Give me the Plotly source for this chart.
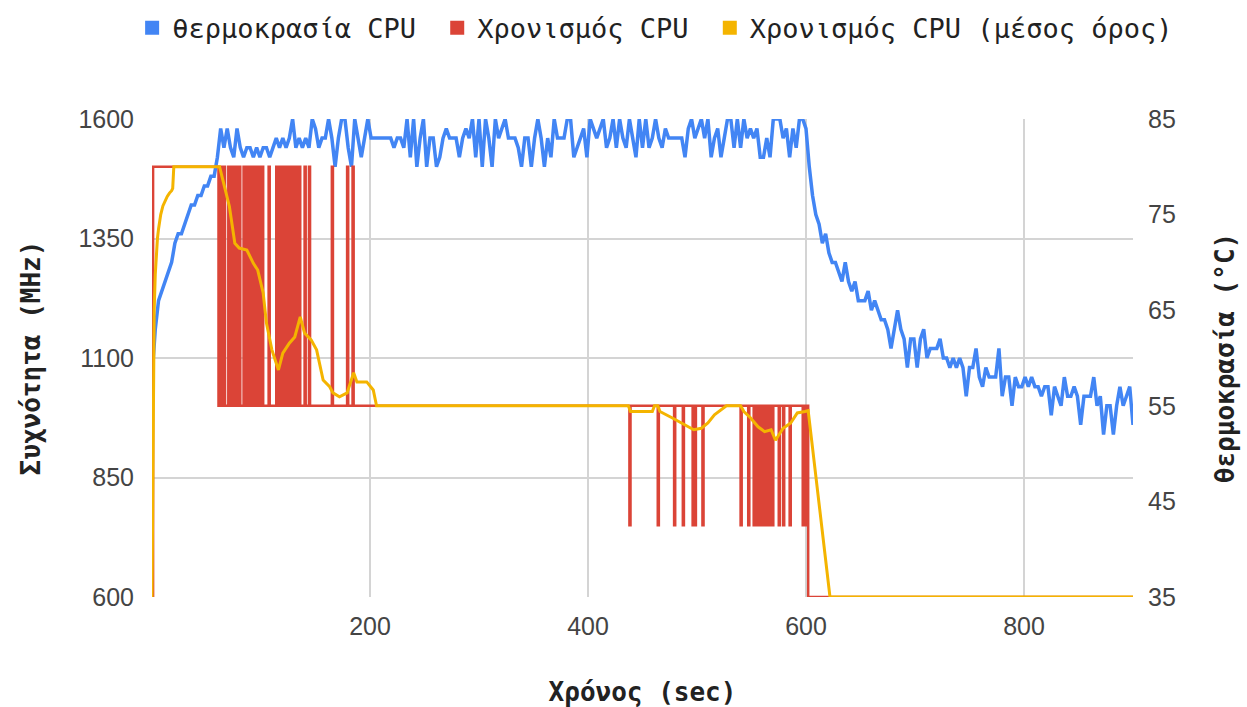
import plotly.graph_objects as go

BLUE = '#4285F4'
RED = '#DB4437'
YEL = '#F4B400'
MONO = 'DejaVu Sans Mono'
SANS = 'Liberation Sans, Arial'

# ---- Temperature (°C), sampled every 3 s ----
temp_time = list(range(0, 901, 3))
temp_c = [
    # 0-57
    58, 63, 66, 67, 68, 69, 70, 72, 73, 73, 74, 75, 76, 76, 77, 77, 78, 78, 79, 79,
    # 60-99
    81, 84, 82, 84, 82, 81, 84, 82, 81, 82, 82, 81, 82, 81,
    # 102-198
    82, 82, 81, 82, 83, 82, 83, 82, 83, 85, 82, 83, 82, 83, 82, 85, 84, 82, 83, 83,
    85, 83, 80, 83, 85, 85, 82, 80, 85, 83, 81, 83, 85,
    # 201-399
    83, 83, 83, 83, 83, 83, 83, 82, 83, 83,
    82, 85, 81, 85, 80, 83, 85, 80, 83, 83,
    80, 81, 83, 84, 83, 83, 83, 81, 83, 84,
    83, 85, 81, 85, 80, 85, 83, 80, 85, 83,
    84, 85, 83, 83, 83, 82, 80, 83, 83, 80,
    83, 85, 83, 80, 83, 81, 85, 83, 83, 83,
    85, 85, 81, 82, 83, 84, 81,
    # 402-597
    85, 84, 83, 84, 85, 82, 83, 85, 82, 85,
    83, 82, 85, 83, 81, 85, 82, 85, 82, 83,
    85, 83, 82, 84, 83, 83, 83, 83, 83, 81,
    84, 85, 83, 84, 85, 83, 85, 81, 83, 84,
    81, 83, 85, 85, 82, 85, 82, 85, 83, 84,
    83, 84, 81, 81, 83, 81, 85, 85, 85, 83,
    84, 81, 84, 82, 85, 85,
    # 600-900
    84, 80, 77, 75, 74, 72, 73, 71, 70, 70,
    69, 68, 70, 68, 67, 68, 66, 66, 66, 67,
    65, 66, 65, 64, 64, 63, 61, 63, 65, 63,
    62, 59, 62, 62, 59, 62, 63, 60, 61, 61,
    61, 62, 60, 60, 59, 60, 59, 60, 59, 56,
    59, 59, 61, 58, 57, 59, 58, 58, 58, 61,
    56, 58, 58, 55, 58, 57, 57, 58, 57, 58,
    57, 57, 56, 57, 57, 54, 57, 56, 55, 58,
    56, 56, 57, 56, 53, 56, 56, 56, 58, 55,
    56, 52, 55, 55, 52, 55, 57, 55, 56, 57,
    53,
]
assert len(temp_c) == len(temp_time)

# ---- CPU clock (MHz), 1-s samples described as base levels + 1-s excursions ----
freq_time = list(range(0, 901))
freq_level_start = [0, 1, 61, 602]
freq_level_mhz = [600, 1500, 1000, 600]
boost_seconds = [62, 64, 66, 70, 72, 74, 76, 78, 80, 84, 86, 88, 90, 92, 94, 96, 98,
                 101, 107, 114, 116, 118, 120, 122, 124, 126, 128, 130, 133, 135,
                 140, 144, 165, 179, 184]
boost_mhz = 1500
throttle_seconds = [438, 464, 479, 487, 496, 498, 505, 540, 547, 552, 554, 556, 558,
                    560, 563, 566, 569, 575, 579, 585, 597, 600]
throttle_mhz = 750

freq_mhz = []
for t in freq_time:
    v = freq_level_mhz[0]
    for s, lv in zip(freq_level_start, freq_level_mhz):
        if t >= s:
            v = lv
    if t in boost_seconds:
        v = boost_mhz
    if t in throttle_seconds:
        v = throttle_mhz
    freq_mhz.append(v)

# ---- CPU clock moving average (MHz) ----
avg_time = [0, 1, 2, 3, 4, 5, 6, 7, 8, 10, 12, 14, 16, 18, 19, 20, 62, 65, 71, 76,
            80, 87, 90, 93, 97, 102, 105, 110, 116, 120, 126, 131, 136, 140, 146, 151,
            157, 163, 166, 172, 179, 185, 188, 197, 203, 206, 437, 439, 459, 461, 464,
            466, 477, 487, 497, 504, 510, 516, 522, 527, 540, 543, 549, 556, 562, 568,
            572, 579, 586, 592, 599, 602, 622, 900]
avg_mhz = [600, 1050, 1200, 1275, 1320, 1350, 1370, 1390, 1400, 1418, 1430, 1438, 1445,
           1450, 1455, 1500, 1500, 1472, 1417, 1340, 1330, 1326, 1312, 1298, 1284, 1236,
           1173, 1117, 1075, 1110, 1131, 1144, 1186, 1152, 1138, 1117, 1054, 1040, 1027,
           1019, 1027, 1069, 1050, 1050, 1033, 1000, 1000, 988, 988, 1000, 1000, 988,
           975, 963, 950, 953, 964, 981, 991, 1000, 1000, 988, 975, 956, 946, 950, 928,
           953, 964, 985, 988, 990, 600, 600]
assert len(avg_time) == len(avg_mhz)

legend_names = ['θερμοκρασία CPU\u00a0', 'Χρονισμός CPU\u00a0', 'Χρονισμός CPU (μέσος όρος)']
x_ticks = [200, 400, 600, 800]
mhz_ticks = [600, 850, 1100, 1350, 1600]
c_ticks = [35, 45, 55, 65, 75, 85]

fig = go.Figure()
fig.add_trace(go.Scatter(x=temp_time, y=temp_c, yaxis='y', mode='lines',
                         line=dict(color=BLUE, width=3.5), showlegend=False,
                         name=legend_names[0]))
fig.add_trace(go.Scatter(x=freq_time, y=freq_mhz, yaxis='y2', mode='lines',
                         line=dict(color=RED, width=2.5, shape='hv'), showlegend=False,
                         name=legend_names[1]))
fig.add_trace(go.Scatter(x=avg_time, y=avg_mhz, yaxis='y2', mode='lines',
                         line=dict(color=YEL, width=3), showlegend=False,
                         name=legend_names[2]))
for name, col in zip(legend_names, [BLUE, RED, YEL]):
    fig.add_trace(go.Scatter(x=[None], y=[None], mode='markers', name=name,
                             marker=dict(symbol='square', size=14, color=col)))

GRID = '#d4d4d4'
fig.update_layout(
    width=1247, height=707,
    margin=dict(l=152, r=114, t=119, b=110, autoexpand=False),
    paper_bgcolor='white', plot_bgcolor='white',
    showlegend=True,
    legend=dict(orientation='h', x=1.046, xanchor='right', y=1.19, yanchor='middle',
                font=dict(family=MONO, size=27, color='#222'), traceorder='normal',
                itemclick=False),
    xaxis=dict(range=[0, 900], tickvals=x_ticks, showgrid=True, gridcolor=GRID,
               gridwidth=1.5, zeroline=False, showline=False, ticks='',
               tickfont=dict(family=SANS, size=25, color='#444'), ticklabelstandoff=12,
               title=dict(text='<b>Χρόνος (sec)</b>', standoff=44,
                          font=dict(family=MONO, size=26, color='#222')),
               automargin=False),
    yaxis=dict(range=[35, 85], tickvals=c_ticks, side='right', showgrid=False,
               zeroline=False, showline=False, ticks='',
               tickfont=dict(family=SANS, size=25, color='#444'), ticklabelstandoff=14,
               title=dict(text='<b>θερμοκρασία (°C)</b>', standoff=40,
                          font=dict(family=MONO, size=26, color='#222')),
               automargin=False),
    yaxis2=dict(range=[600, 1600], tickvals=mhz_ticks, side='left', overlaying='y',
                showgrid=True, gridcolor=GRID, gridwidth=1.5, zeroline=False,
                showline=False, ticks='',
                tickfont=dict(family=SANS, size=25, color='#444'), ticklabelstandoff=17,
                title=dict(text='<b>Συχνότητα (MHz)</b>', standoff=30,
                           font=dict(family=MONO, size=26, color='#222')),
                automargin=False),
)

fig.write_html("out.html", config={'displayModeBar': False},
               post_script="document.body.style.margin='0';")
